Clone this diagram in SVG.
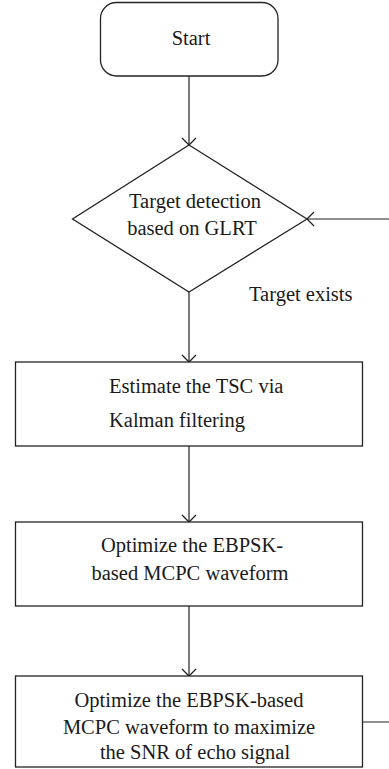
<svg xmlns="http://www.w3.org/2000/svg" width="389" height="769" viewBox="0 0 389 769">
<defs>
<style>
.shape{fill:#fff;stroke:#222;stroke-width:1.3}
.conn{fill:none;stroke:#222;stroke-width:1.2}
text{font-family:"Liberation Serif","Times New Roman",serif;font-size:20.5px;fill:#1a1a1a}
</style>
<marker id="arr" markerUnits="userSpaceOnUse" markerWidth="20" markerHeight="20" viewBox="-10 -10 20 20" refX="0" refY="0" orient="auto">
<path d="M-7,-7 L0,0 L-7,7" fill="none" stroke="#222" stroke-width="1.3"/>
</marker>
</defs>
<rect width="389" height="769" fill="#fff"/>
<g id="connectors">
<line class="conn" x1="189" y1="76" x2="189" y2="145" marker-end="url(#arr)"/>
<line class="conn" x1="189" y1="292" x2="189" y2="362" marker-end="url(#arr)"/>
<line class="conn" x1="189" y1="446" x2="189" y2="522" marker-end="url(#arr)"/>
<line class="conn" x1="189" y1="606" x2="189" y2="676" marker-end="url(#arr)"/>
<polyline class="conn" points="362,722 390,722 390,219 307,219" marker-end="url(#arr)"/>
</g>
<g id="start">
<rect class="shape" x="100.5" y="2.5" width="177.5" height="73.5" rx="16"/>
<text x="191" y="45" text-anchor="middle">Start</text>
</g>
<g id="detect">
<polygon class="shape" points="189,145 307,219 189,292 72.5,219"/>
<text x="195" y="208" text-anchor="middle">Target detection</text>
<text x="192" y="235" text-anchor="middle">based on GLRT</text>
</g>
<g id="label-exists">
<text x="249" y="301">Target exists</text>
</g>
<g id="estimate">
<rect class="shape" x="15.5" y="362" width="347" height="84"/>
<text x="109" y="393">Estimate the TSC via</text>
<text x="109" y="427">Kalman filtering</text>
</g>
<g id="optimize1">
<rect class="shape" x="15.5" y="522" width="347" height="84"/>
<text x="192" y="552" text-anchor="middle">Optimize the EBPSK-</text>
<text x="190" y="580" text-anchor="middle">based MCPC waveform</text>
</g>
<g id="optimize2">
<rect class="shape" x="15.5" y="676" width="347" height="91"/>
<text x="189" y="707" text-anchor="middle">Optimize the EBPSK-based</text>
<text x="189" y="734" text-anchor="middle">MCPC waveform to maximize</text>
<text x="195" y="759" text-anchor="middle">the SNR of echo signal</text>
</g>
</svg>
